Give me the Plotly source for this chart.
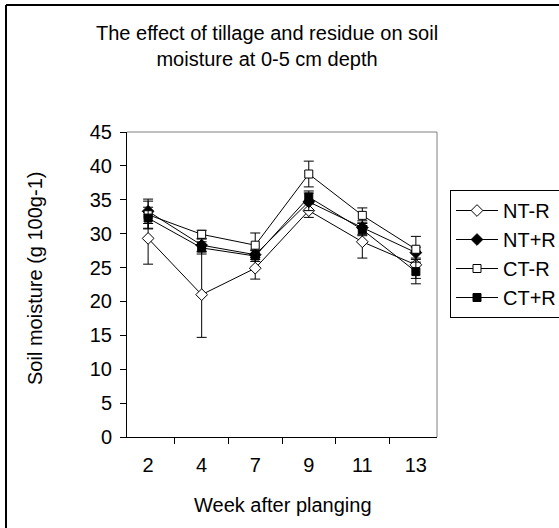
import plotly.graph_objects as go

weeks = ["2", "4", "7", "9", "11", "13"]
series_names = ["NT-R", "NT+R", "CT-R", "CT+R"]
nt_minus = [29.3, 21.0, 24.9, 33.4, 28.8, 25.4]
nt_minus_err = [3.8, 6.3, 1.6, 1.0, 2.4, 2.0]
nt_plus = [33.3, 28.3, 26.9, 34.7, 30.9, 27.2]
nt_plus_err = [1.8, 0.9, 0.7, 1.3, 1.0, 0.8]
ct_minus = [32.8, 29.9, 28.3, 38.8, 32.7, 27.7]
ct_minus_err = [2.0, 0.6, 1.8, 1.9, 1.1, 1.9]
ct_plus = [32.3, 27.9, 26.7, 35.4, 30.6, 24.4]
ct_plus_err = [1.6, 0.9, 0.8, 0.9, 0.9, 1.8]

values = [nt_minus, nt_plus, ct_minus, ct_plus]
errors = [nt_minus_err, nt_plus_err, ct_minus_err, ct_plus_err]
symbols = ["diamond", "diamond", "square", "square"]
fills = ["white", "black", "white", "black"]
sizes = [9, 9, 8, 8]

W, H = 559, 528
L, R, T, B = 127, 437, 132, 437
pw, ph = R - L, B - T


def px(x):
    return (x - L) / pw


def py(y):
    return (B - y) / ph


FONT = "Liberation Sans, Arial, sans-serif"

fig = go.Figure()
for name, v, e, sym, fc, sz in zip(series_names, values, errors, symbols, fills, sizes):
    fig.add_trace(go.Scatter(
        x=weeks, y=v, name=name, legendgroup=name,
        mode="lines+markers",
        line=dict(color="black", width=1),
        marker=dict(symbol=sym, size=sz, color=fc, line=dict(color="black", width=1)),
        error_y=dict(type="data", array=e, visible=True, color="black", thickness=1, width=5),
    ))

fig.update_layout(
    width=W, height=H,
    margin=dict(l=L, r=W - R, t=T, b=H - B, autoexpand=False),
    paper_bgcolor="white", plot_bgcolor="white",
    font=dict(family=FONT, size=20, color="black"),
    showlegend=True,
    legend=dict(
        x=px(450), y=py(190), xanchor="left", yanchor="top",
        bgcolor="white", bordercolor="black", borderwidth=1,
        font=dict(size=20), tracegroupgap=7, traceorder="normal",
        itemwidth=42,
    ),
    xaxis=dict(
        type="category", tickson="boundaries",
        showline=True, linecolor="black", linewidth=1,
        ticks="outside", ticklen=6, tickcolor="black",
        showgrid=False, zeroline=False,
        tickfont=dict(size=20), ticklabelstandoff=10,
    ),
    yaxis=dict(
        range=[0, 45], dtick=5, tick0=0,
        showline=True, linecolor="black", linewidth=1,
        ticks="outside", ticklen=6, tickcolor="black",
        showgrid=False, zeroline=False,
        tickfont=dict(size=20), ticklabelstandoff=4,
    ),
    shapes=[
        dict(type="line", xref="paper", yref="paper", x0=0, x1=1, y0=1, y1=1,
             line=dict(color="#808080", width=1)),
        dict(type="line", xref="paper", yref="paper", x0=1, x1=1, y0=0, y1=1,
             line=dict(color="#808080", width=1)),
        dict(type="line", xref="paper", yref="paper", x0=px(6), x1=px(6), y0=py(5), y1=py(530),
             line=dict(color="black", width=2)),
        dict(type="line", xref="paper", yref="paper", x0=px(6), x1=px(561), y0=py(5), y1=py(5),
             line=dict(color="black", width=2)),
    ],
    annotations=[
        dict(text="The effect of tillage and residue on soil<br>moisture at 0-5 cm depth",
             xref="paper", yref="paper", x=px(267), y=py(46.5),
             xanchor="center", yanchor="middle", showarrow=False,
             font=dict(size=20)),
        dict(text="Soil moisture (g 100g-1)", textangle=-90,
             xref="paper", yref="paper", x=px(35), y=py(279),
             xanchor="center", yanchor="middle", showarrow=False,
             font=dict(size=20)),
        dict(text="Week after planging",
             xref="paper", yref="paper", x=px(283), y=py(505),
             xanchor="center", yanchor="middle", showarrow=False,
             font=dict(size=20)),
    ],
)

fig.write_html("out.html")
